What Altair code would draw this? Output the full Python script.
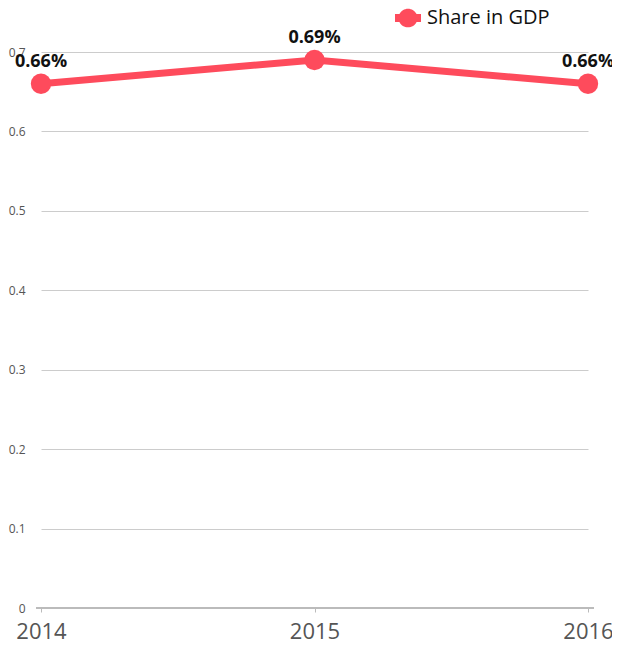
import altair as alt
import pandas as pd

years = ["2014", "2015", "2016"]
share = [0.66, 0.69, 0.66]
series = "Share in GDP"
y_ticks = [0, 0.1, 0.2, 0.3, 0.4, 0.5, 0.6, 0.7]

df = pd.DataFrame({"year": years, "share": share, "series": [series] * len(years)})

FONT = "Open Sans"
RED = "#fe4b5c"

color = alt.Color(
    "series:N",
    scale=alt.Scale(domain=[series], range=[RED]),
    legend=alt.Legend(
        title=None,
        orient="none",
        legendX=354,
        legendY=-47,
        symbolType="M-1,-0.3 L-0.66,-0.3 A0.73,0.73 0 0,1 0.66,-0.3 L1,-0.3 L1,0.3 L0.66,0.3 A0.73,0.73 0 0,1 -0.66,0.3 L-1,0.3 Z",
        symbolSize=676,
        symbolFillColor=RED,
        symbolStrokeWidth=0,
        labelFont=FONT,
        labelFontSize=20,
        labelColor="#111111",
        labelOffset=6,
        padding=0,
    ),
)

x = alt.X(
    "year:O",
    scale=alt.Scale(type="point", padding=0),
    axis=alt.Axis(
        title=None,
        labelAngle=0,
        labelFont=FONT,
        labelFontSize=22,
        labelColor="#555555",
        labelPadding=9,
        tickSize=4,
        tickColor="#bbbbbb",
        domain=False,
        grid=False,
    ),
)
y = alt.Y(
    "share:Q",
    scale=alt.Scale(domain=[0, 0.7], nice=False),
    axis=alt.Axis(
        title=None,
        values=y_ticks,
        format="~g",
        labelFont=FONT,
        labelFontSize=12,
        labelColor="#555555",
        labelPadding=16,
        ticks=False,
        domain=False,
        grid=True,
        gridColor="#cccccc",
        gridWidth=1,
    ),
)

base = alt.Chart(df)

baseline = base.mark_rule(color="#bbbbbb", strokeWidth=2).encode(
    y=alt.datum(0), x=alt.value(-5), x2=alt.value(553)
)

line = base.mark_line(strokeWidth=7).encode(x=x, y=y, color=color)
points = base.mark_circle(size=415, opacity=1).encode(x=x, y=y, color=alt.Color("series:N", legend=None))
labels = base.mark_text(
    dy=-22, fontSize=18, fontWeight="bold", font=FONT, color="#111111"
).transform_calculate(lab="format(datum.share, '.2f') + '%'").encode(x=x, y=y, text="lab:N")

chart = (
    alt.layer(baseline, line, points, labels)
    .properties(
        width=547,
        height=556,
        autosize=alt.AutoSizeParams(type="none"),
        padding={"left": 33, "top": 44, "right": 24, "bottom": 34},
    )
    .configure_view(stroke=None)
)

chart.save("out.html", embed_options={"renderer": "svg", "actions": False})
